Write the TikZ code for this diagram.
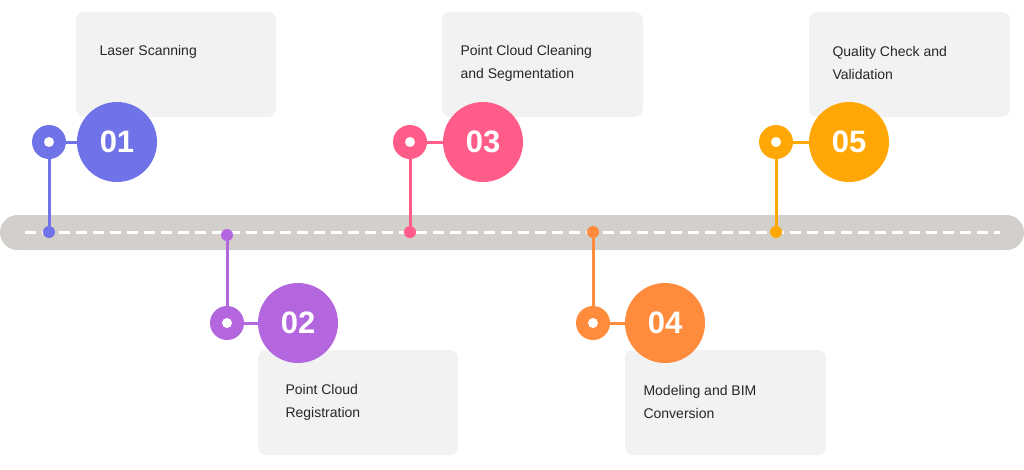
\documentclass[tikz,border=0pt]{standalone}
\usepackage{fontspec}
\setmainfont{Liberation Sans}
\definecolor{cA}{HTML}{7073E8}
\definecolor{cB}{HTML}{B466DF}
\definecolor{cC}{HTML}{FF5C89}
\definecolor{cD}{HTML}{FF8B3D}
\definecolor{cE}{HTML}{FFA805}
\definecolor{barc}{HTML}{D3CFCA}
\definecolor{boxc}{HTML}{F2F2F2}
\begin{document}
\begin{tikzpicture}[x=1pt,y=-1pt,
  box/.style={fill=boxc,rounded corners=8pt},
  lbl/.style={anchor=west,align=left,font=\fontsize{14}{23}\selectfont,text=black!85},
  num/.style={circle,minimum size=80pt,inner sep=0pt,text=white,font=\bfseries\fontsize{31}{31}\selectfont},
  sm/.style={circle,minimum size=34pt,inner sep=0pt},
  hole/.style={circle,fill=white,minimum size=10pt,inner sep=0pt},
  dot/.style={circle,minimum size=12pt,inner sep=0pt}]
\useasboundingbox (0,0) rectangle (1024,469);
\fill[barc,rounded corners=17.5pt] (0,215) rectangle (1024,250);
\draw[white,line width=3pt,dash pattern=on 11pt off 6pt] (25,232) -- (1000,232);
% boxes
\fill[box] (76,12) rectangle (276,117);
\fill[box] (258,350) rectangle (458,455);
\fill[box] (442,12) rectangle (643,117);
\fill[box] (625,350) rectangle (826,455);
\fill[box] (809,12) rectangle (1010,117);
\node[lbl] (t1) at (96,52) {Laser Scanning};
\node[lbl] (t2) at (282,402) {Point Cloud\\Registration};
\node[lbl] (t3) at (457,63) {Point Cloud Cleaning\\and Segmentation};
\node[lbl] (t4) at (640,402) {Modeling and BIM\\Conversion};
\node[lbl] (t5) at (829,63) {Quality Check and\\Validation};
% items
\foreach \n/\c/\sx/\sy/\bx/\dy in {1/cA/49/142/117/232, 2/cB/227/323/298/235, 3/cC/410/142/483/232, 4/cD/593/323/665/232, 5/cE/776/142/849/232}{
  \node[dot,fill=\c] (d\n) at (\sx,\dy) {};
  \node[sm,fill=\c] (s\n) at (\sx,\sy) {};
  \node[num,fill=\c] (b\n) at (\bx,\sy) {0\n};
  \draw[\c,line width=3pt] (s\n) -- (b\n);
  \draw[\c,line width=3pt] (s\n) -- (d\n);
  \node[hole] (h\n) at (\sx,\sy) {};
}
\end{tikzpicture}
\end{document}
